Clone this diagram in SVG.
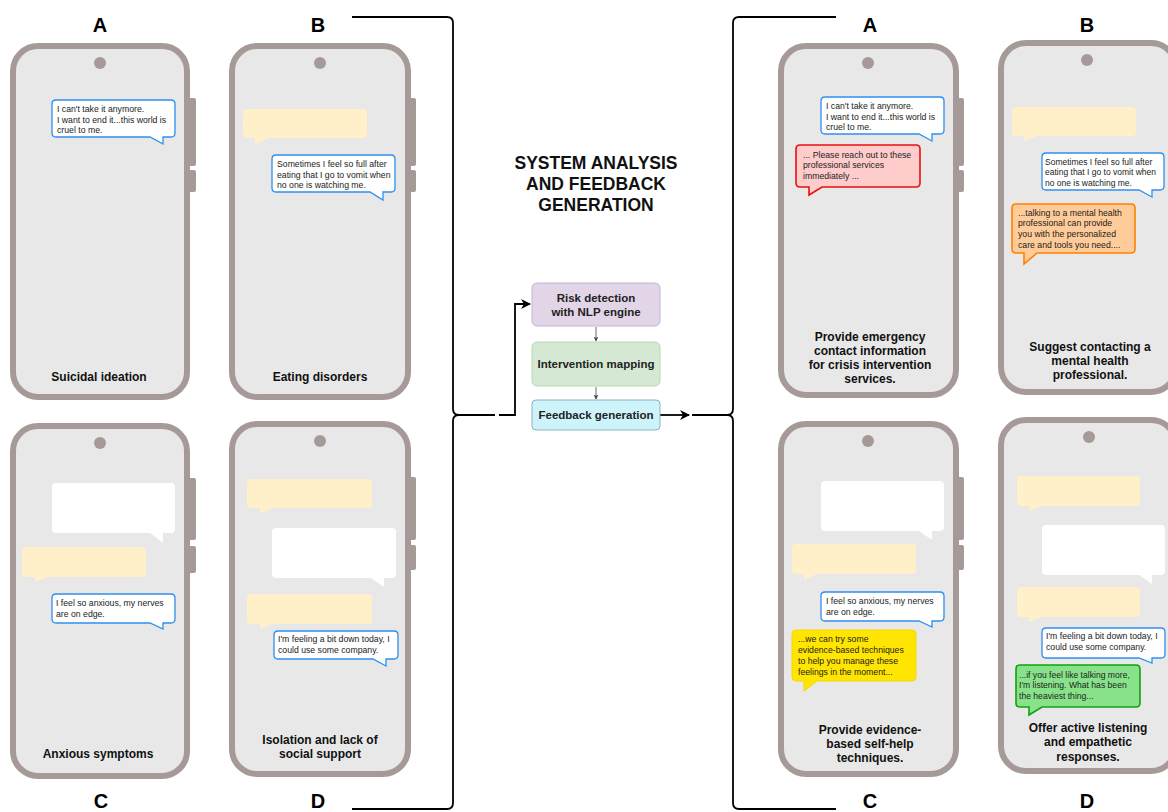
<svg xmlns="http://www.w3.org/2000/svg" width="1168" height="812" viewBox="0 0 1168 812">
<style>
.frame{fill:#e8e8e8;stroke:#a59a98;stroke-width:6}
.btn{fill:#a59a98}
.cam{fill:#a59a98}
.letter{font-family:"Liberation Sans",Arial,sans-serif;font-weight:bold;font-size:20px;fill:#000;text-anchor:middle}
.lbl{font-family:"Liberation Sans",Arial,sans-serif;font-weight:bold;font-size:12px;fill:#111;text-anchor:middle}
.msg{font-family:"Liberation Sans",Arial,sans-serif;font-size:8.7px;fill:#222}
.blue{fill:#ffffff;stroke:#2f8fef;stroke-width:1.3}
.pale{fill:#fff0c9}
.white{fill:#ffffff}
.red{fill:#ffcccc;stroke:#e81010;stroke-width:1.6}
.orange{fill:#ffcc99;stroke:#ff8000;stroke-width:1.6}
.gold{fill:#ffe500;stroke:#f5d800;stroke-width:1}
.green{fill:#88e28a;stroke:#12a012;stroke-width:1.6}
.conn{fill:none;stroke:#000;stroke-width:1.8}
.thin{fill:none;stroke:#444;stroke-width:0.8}
.title{font-family:"Liberation Sans",Arial,sans-serif;font-weight:bold;font-size:17.5px;fill:#111;text-anchor:middle}
.box{font-family:"Liberation Sans",Arial,sans-serif;font-weight:bold;font-size:11.5px;fill:#222;text-anchor:middle}
</style>
<defs>
<marker id="arr" viewBox="0 0 10 10" refX="9" refY="5" markerWidth="10" markerHeight="10" markerUnits="userSpaceOnUse" orient="auto">
<path d="M0,0 L10,5 L0,10 L3,5 Z" fill="#000"/>
</marker>
<marker id="arrs" viewBox="0 0 10 10" refX="9" refY="5" markerWidth="5" markerHeight="5" markerUnits="userSpaceOnUse" orient="auto">
<path d="M0,0 L10,5 L0,10 L3,5 Z" fill="#444"/>
</marker>
</defs>
<rect width="1168" height="812" fill="#ffffff"/>

<g id="connectors">
<path class="conn" d="M352,17 H447 Q453,17 453,23 V409 Q453,415 459,415 H495"/>
<path class="conn" d="M352,809 H447 Q453,809 453,803 V421 Q453,415 459,415"/>
<path class="conn" d="M499,415 H515 V304 H530" marker-end="url(#arr)"/>
<path class="conn" d="M660,415 H689" marker-end="url(#arr)"/>
<path class="conn" d="M692,415 H727 Q733,415 733,409 V23 Q733,17 739,17 H836"/>
<path class="conn" d="M727,415 Q733,415 733,421 V803 Q733,809 739,809 H836"/>
<path class="thin" d="M596,327 V341" marker-end="url(#arrs)"/>
<path class="thin" d="M596,387 V399" marker-end="url(#arrs)"/>
</g>

<g id="title">
<text class="title" x="596" y="169">SYSTEM ANALYSIS</text>
<text class="title" x="596" y="190">AND FEEDBACK</text>
<text class="title" x="596" y="211">GENERATION</text>
</g>

<g id="risk-detection">
<rect x="532" y="283" width="128" height="43" rx="5" fill="#e1d5e7" stroke="#c9b2d4" stroke-width="1"/>
<text class="box" x="596" y="302">Risk detection</text>
<text class="box" x="596" y="316">with NLP engine</text>
</g>
<g id="intervention-mapping">
<rect x="532" y="342" width="128" height="44" rx="5" fill="#d5e8d4" stroke="#b9d6b5" stroke-width="1"/>
<text class="box" x="596" y="368">Intervention mapping</text>
</g>
<g id="feedback-generation">
<rect x="532" y="400" width="128" height="30" rx="4" fill="#cdf3fb" stroke="#8fb3bd" stroke-width="1"/>
<text class="box" x="596" y="419">Feedback generation</text>
</g>

<!-- Left A -->
<g id="left-A">
<text class="letter" x="100" y="32">A</text>
<rect class="btn" x="187" y="98" width="9" height="68" rx="2"/>
<rect class="btn" x="187" y="170" width="9" height="22" rx="2"/>
<rect class="frame" x="13" y="46" width="174" height="351" rx="25"/>
<circle class="cam" cx="100" cy="63" r="6"/>
<path class="blue" d="M56,100 H171 Q175,100 175,104 V133 Q175,137 171,137 H163 V144 L150,137 H56 Q52,137 52,133 V104 Q52,100 56,100 Z"/>
<text class="msg" x="57" y="112">I can't take it anymore.</text>
<text class="msg" x="57" y="123">I want to end it...this world is</text>
<text class="msg" x="57" y="133">cruel to me.</text>
<text class="lbl" x="99" y="381">Suicidal ideation</text>
</g>

<!-- Left B -->
<g id="left-B">
<text class="letter" x="318" y="32">B</text>
<rect class="btn" x="407" y="98" width="9" height="68" rx="2"/>
<rect class="btn" x="407" y="170" width="9" height="22" rx="2"/>
<rect class="frame" x="232" y="46" width="176" height="351" rx="25"/>
<circle class="cam" cx="320" cy="63" r="6"/>
<path class="pale" d="M247,109 H363 Q367,109 367,113 V134 Q367,138 363,138 H268 L255,145 V138 H247 Q243,138 243,134 V113 Q243,109 247,109 Z"/>
<path class="blue" d="M276,155 H391 Q395,155 395,159 V188 Q395,192 391,192 H383 V200 L370,192 H276 Q272,192 272,188 V159 Q272,155 276,155 Z"/>
<text class="msg" x="277" y="167">Sometimes I feel so full after</text>
<text class="msg" x="277" y="178">eating that I go to vomit when</text>
<text class="msg" x="277" y="188">no one is watching me.</text>
<text class="lbl" x="320" y="381">Eating disorders</text>
</g>

<!-- Left C -->
<g id="left-C">
<rect class="btn" x="187" y="478" width="9" height="62" rx="2"/>
<rect class="btn" x="187" y="546" width="9" height="27" rx="2"/>
<rect class="frame" x="13" y="426" width="174" height="350" rx="25"/>
<circle class="cam" cx="100" cy="443" r="6"/>
<path class="white" d="M56,483 H171 Q175,483 175,487 V529 Q175,533 171,533 H163 V543 L150,533 H56 Q52,533 52,529 V487 Q52,483 56,483 Z"/>
<path class="pale" d="M26,547 H142 Q146,547 146,551 V573 Q146,577 142,577 H48 L35,582 V577 H26 Q22,577 22,573 V551 Q22,547 26,547 Z"/>
<path class="blue" d="M56,594 H171 Q175,594 175,598 V619 Q175,623 171,623 H163 V629 L150,623 H56 Q52,623 52,619 V598 Q52,594 56,594 Z"/>
<text class="msg" x="56" y="606">I feel so anxious, my nerves</text>
<text class="msg" x="56" y="617">are on edge.</text>
<text class="lbl" x="98" y="758">Anxious symptoms</text>
<text class="letter" x="101" y="808">C</text>
</g>

<!-- Left D -->
<g id="left-D">
<rect class="btn" x="407" y="477" width="9" height="63" rx="2"/>
<rect class="btn" x="407" y="545" width="9" height="25" rx="2"/>
<rect class="frame" x="232" y="424" width="176" height="350" rx="25"/>
<circle class="cam" cx="320" cy="441" r="6"/>
<path class="pale" d="M251,479 H368 Q372,479 372,483 V504 Q372,508 368,508 H273 L260,513 V508 H251 Q247,508 247,504 V483 Q247,479 251,479 Z"/>
<path class="white" d="M276,528 H392 Q396,528 396,532 V574 Q396,578 392,578 H384 V587 L371,578 H276 Q272,578 272,574 V532 Q272,528 276,528 Z"/>
<path class="pale" d="M251,594 H368 Q372,594 372,598 V620 Q372,624 368,624 H273 L260,629 V624 H251 Q247,624 247,620 V598 Q247,594 251,594 Z"/>
<path class="blue" d="M278,631 H394 Q398,631 398,635 V655 Q398,659 394,659 H386 V666 L373,659 H278 Q274,659 274,655 V635 Q274,631 278,631 Z"/>
<text class="msg" x="278" y="642">I'm feeling a bit down today, I</text>
<text class="msg" x="278" y="653">could use some company.</text>
<text class="lbl" x="320" y="744">Isolation and lack of</text>
<text class="lbl" x="320" y="758">social support</text>
<text class="letter" x="318" y="808">D</text>
</g>

<!-- Right A -->
<g id="right-A">
<text class="letter" x="870" y="32">A</text>
<rect class="btn" x="955" y="98" width="9" height="68" rx="2"/>
<rect class="btn" x="955" y="170" width="9" height="22" rx="2"/>
<rect class="frame" x="781" y="46" width="175" height="349" rx="25"/>
<circle class="cam" cx="868" cy="63" r="6"/>
<path class="blue" d="M825,97 H940 Q944,97 944,101 V130 Q944,134 940,134 H932 V141 L919,134 H825 Q821,134 821,130 V101 Q821,97 825,97 Z"/>
<text class="msg" x="826" y="109">I can't take it anymore.</text>
<text class="msg" x="826" y="120">I want to end it...this world is</text>
<text class="msg" x="826" y="130">cruel to me.</text>
<path class="red" d="M800,145 H916 Q920,145 920,149 V183 Q920,187 916,187 H822 L809,195 V187 H800 Q796,187 796,183 V149 Q796,145 800,145 Z"/>
<text class="msg" x="803" y="158">... Please reach out to these</text>
<text class="msg" x="803" y="168">professional services</text>
<text class="msg" x="803" y="179">immediately ...</text>
<text class="lbl" x="870" y="341">Provide emergency</text>
<text class="lbl" x="870" y="355">contact information</text>
<text class="lbl" x="870" y="369">for crisis intervention</text>
<text class="lbl" x="870" y="383">services.</text>
</g>

<!-- Right B -->
<g id="right-B">
<text class="letter" x="1087" y="32">B</text>
<rect class="frame" x="1001" y="43" width="175" height="349" rx="25"/>
<circle class="cam" cx="1087" cy="60" r="6"/>
<path class="pale" d="M1016,107 H1132 Q1136,107 1136,111 V132 Q1136,136 1132,136 H1037 L1024,141 V136 H1016 Q1012,136 1012,132 V111 Q1012,107 1016,107 Z"/>
<path class="blue" d="M1046,153 H1160 Q1164,153 1164,157 V186 Q1164,190 1160,190 H1152 V197 L1139,190 H1046 Q1042,190 1042,186 V157 Q1042,153 1046,153 Z"/>
<text class="msg" x="1045" y="165" style="font-size:8.5px">Sometimes I feel so full after</text>
<text class="msg" x="1045" y="175" style="font-size:8.5px">eating that I go to vomit when</text>
<text class="msg" x="1045" y="186" style="font-size:8.5px">no one is watching me.</text>
<path class="orange" d="M1016,204 H1131 Q1135,204 1135,208 V249 Q1135,253 1131,253 H1037 L1024,264 V253 H1016 Q1012,253 1012,249 V208 Q1012,204 1016,204 Z"/>
<text class="msg" x="1018" y="216">...talking to a mental health</text>
<text class="msg" x="1018" y="226">professional can provide</text>
<text class="msg" x="1018" y="237">you with the personalized</text>
<text class="msg" x="1018" y="248">care and tools you need....</text>
<text class="lbl" x="1090" y="351">Suggest contacting a</text>
<text class="lbl" x="1090" y="365">mental health</text>
<text class="lbl" x="1090" y="379">professional.</text>
</g>

<!-- Right C -->
<g id="right-C">
<rect class="btn" x="955" y="477" width="9" height="63" rx="2"/>
<rect class="btn" x="955" y="545" width="9" height="25" rx="2"/>
<rect class="frame" x="781" y="424" width="175" height="350" rx="25"/>
<circle class="cam" cx="868" cy="441" r="6"/>
<path class="white" d="M825,481 H940 Q944,481 944,485 V527 Q944,531 940,531 H932 V540 L919,531 H825 Q821,531 821,527 V485 Q821,481 825,481 Z"/>
<path class="pale" d="M796,544 H912 Q916,544 916,548 V570 Q916,574 912,574 H817 L804,580 V574 H796 Q792,574 792,570 V548 Q792,544 796,544 Z"/>
<path class="blue" d="M825,592 H940 Q944,592 944,596 V617 Q944,621 940,621 H932 V627 L919,621 H825 Q821,621 821,617 V596 Q821,592 825,592 Z"/>
<text class="msg" x="826" y="604">I feel so anxious, my nerves</text>
<text class="msg" x="826" y="615">are on edge.</text>
<path class="gold" d="M796,630 H912 Q916,630 916,634 V677 Q916,681 912,681 H817 L804,691 V681 H796 Q792,681 792,677 V634 Q792,630 796,630 Z"/>
<text class="msg" x="798" y="642">...we can try some</text>
<text class="msg" x="798" y="653">evidence-based techniques</text>
<text class="msg" x="798" y="664">to help you manage these</text>
<text class="msg" x="798" y="675">feelings in the moment...</text>
<text class="lbl" x="870" y="734">Provide evidence-</text>
<text class="lbl" x="870" y="748">based self-help</text>
<text class="lbl" x="870" y="762">techniques.</text>
<text class="letter" x="870" y="808">C</text>
</g>

<!-- Right D -->
<g id="right-D">
<rect class="frame" x="1001" y="420" width="175" height="351" rx="25"/>
<circle class="cam" cx="1089" cy="437" r="6"/>
<path class="pale" d="M1021,476 H1136 Q1140,476 1140,480 V502 Q1140,506 1136,506 H1042 L1029,511 V506 H1021 Q1017,506 1017,502 V480 Q1017,476 1021,476 Z"/>
<path class="white" d="M1046,525 H1161 Q1165,525 1165,529 V571 Q1165,575 1161,575 H1152 V584 L1139,575 H1046 Q1042,575 1042,571 V529 Q1042,525 1046,525 Z"/>
<path class="pale" d="M1021,587 H1136 Q1140,587 1140,591 V613 Q1140,617 1136,617 H1042 L1029,622 V617 H1021 Q1017,617 1017,613 V591 Q1017,587 1021,587 Z"/>
<path class="blue" d="M1046,628 H1161 Q1165,628 1165,632 V654 Q1165,658 1161,658 H1152 V663 L1139,658 H1046 Q1042,658 1042,654 V632 Q1042,628 1046,628 Z"/>
<text class="msg" x="1046" y="639">I'm feeling a bit down today, I</text>
<text class="msg" x="1046" y="650">could use some company.</text>
<path class="green" d="M1020,665 H1136 Q1140,665 1140,669 V703 Q1140,707 1136,707 H1042 L1029,715 V707 H1020 Q1016,707 1016,703 V669 Q1016,665 1020,665 Z"/>
<text class="msg" x="1019" y="678" style="font-size:8.6px">...if you feel like talking more,</text>
<text class="msg" x="1019" y="688" style="font-size:8.6px">I'm listening. What has been</text>
<text class="msg" x="1019" y="699" style="font-size:8.6px">the heaviest thing...</text>
<text class="lbl" x="1088" y="732">Offer active listening</text>
<text class="lbl" x="1088" y="746">and empathetic</text>
<text class="lbl" x="1088" y="761">responses.</text>
<text class="letter" x="1087" y="808">D</text>
</g>
</svg>
